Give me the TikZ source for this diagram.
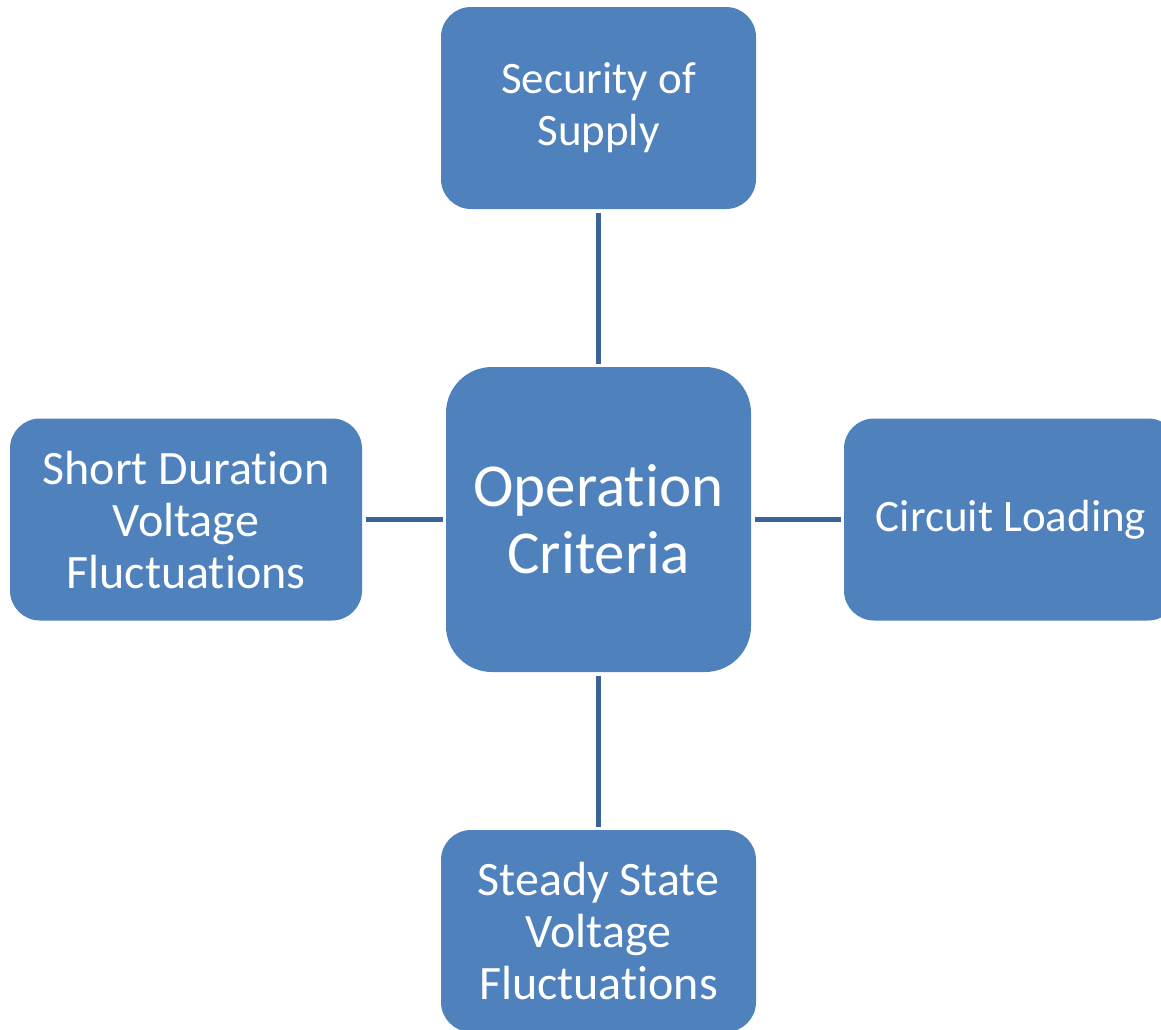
\documentclass[tikz,border=0pt]{standalone}
\usepackage{fontspec}
\setmainfont[Ligatures=NoCommon]{Carlito}
\definecolor{boxblue}{HTML}{4F81BD}
\definecolor{lineblue}{HTML}{3A6498}
\tikzset{
  box/.style={draw=none, fill=boxblue, text=white, align=center, rounded corners=30pt,
    inner sep=0pt, font=\fontsize{45}{52}\selectfont},
  bigtext/.style={font=\fontsize{48}{52}\selectfont},
  link/.style={draw=lineblue, line width=4.5pt, shorten <=4pt, shorten >=3pt}
}
\begin{document}
\begin{tikzpicture}[x=1pt,y=-1pt]
\useasboundingbox (0,0) rectangle (1161,1029);
\node[box, minimum width=315pt, minimum height=202pt] (top) at (598.5,108) {Security of\\Supply};
\node[box, minimum width=305pt, minimum height=305pt, rounded corners=46pt,
  font=\fontsize{61}{67}\selectfont] (ctr) at (598.5,519.5) {Operation\\Criteria};
\node[box, bigtext, minimum width=352pt, minimum height=202pt] (left) at (186,519.5) {Short Duration\\Voltage\\Fluctuations};
\node[box, minimum width=334pt, minimum height=202pt] (right) at (1011,519.5) {Circuit Loading};
\node[box, bigtext, minimum width=315pt, minimum height=202pt] (bot) at (598.5,931) {Steady State\\Voltage\\Fluctuations};
\draw[link] (top.south) -- (ctr.north);
\draw[link] (ctr.south) -- (bot.north);
\draw[link] (left.east) -- (ctr.west);
\draw[link] (ctr.east) -- (right.west);
\end{tikzpicture}
\end{document}
